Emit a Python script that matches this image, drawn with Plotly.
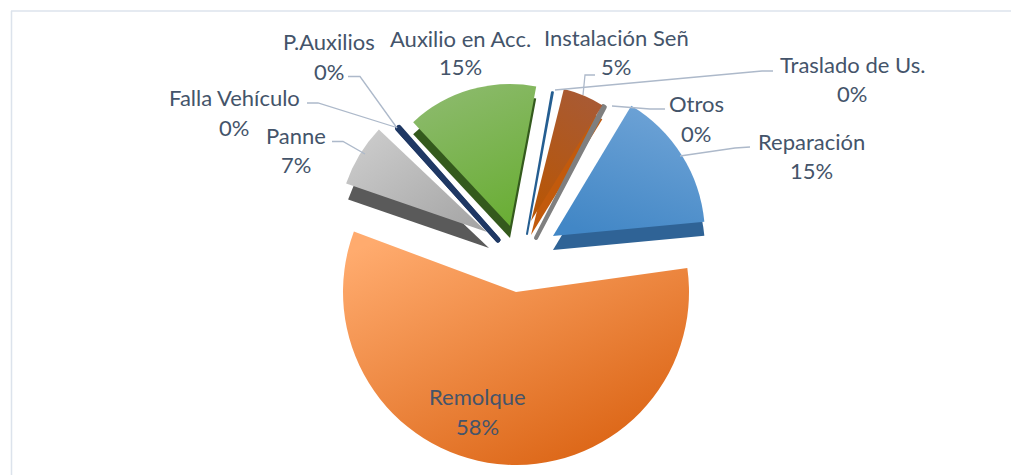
import plotly.graph_objects as go

W, H = 1011, 475

# ---- data ----
categories = ["Remolque", "Otros", "Traslado de Us.", "Reparación", "Panne", "Falla Vehículo",
              "P.Auxilios", "Auxilio en Acc.", "Instalación Señ"]
values = [57.9, 0.2, 0.1, 14.9, 6.8, 0.1, 0.2, 14.9, 4.9]
total = sum(values)

# ---- styling / layout (pixels in the 1011x475 frame) ----
# name: centre x, centre y, radius, start angle (deg clockwise from north)
geometry = {
    "Remolque": (516, 292, 173, 82),
    "Otros": (536, 238, 148, 27),
    "Traslado de Us.": (527, 234, 144, 10),
    "Reparación": (553, 236, 152, 31),
    "Panne": (487, 232, 149, 289),
    "Falla Vehículo": (498, 240, 150, 318),
    "P.Auxilios": (498, 240, 150, 318),
    "Auxilio en Acc.": (510, 226, 142, 317),
    "Instalación Señ": (531, 221, 136, 14),
}
depth = {"Reparación": (0, 14, "#2f6396"), "Panne": (2, 16, "#5a5a5a"),
         "Auxilio en Acc.": (0, 12, "#345a1d"), "Instalación Señ": (0, 14, "#c25a0c")}
flat_colors = {"Remolque": "#ED7D31", "Otros": "#7f7f7f", "Traslado de Us.": "#255e91",
               "Reparación": "#5B9BD5", "Panne": "#B5B5B5", "Falla Vehículo": "#1f3864",
               "P.Auxilios": "#1f3864", "Auxilio en Acc.": "#70AD47", "Instalación Señ": "#B05A20"}
line_w = {"Otros": 4, "Traslado de Us.": 2, "Falla Vehículo": 5, "P.Auxilios": 5}
gradients = {"Remolque": ("#ffab6e", "#d9600f", 0.15, 0, 0.85, 1),
             "Reparación": ("#6ea3d6", "#4287c6", 0.7, 0, 0.3, 1),
             "Panne": ("#cfcfcf", "#a3a3a3", 0, 0, 1, 1),
             "Auxilio en Acc.": ("#8cba6c", "#6aae35", 0.3, 0, 0.7, 1),
             "Instalación Señ": ("#a85a34", "#b85606", 0.7, 0, 0.3, 1)}
label_pos = {  # centre x, y of name line, y of percent line
    "P.Auxilios": (329, 41, 71), "Auxilio en Acc.": (460, 39, 67), "Instalación Señ": (616, 38, 67),
    "Traslado de Us.": (852, 65, 94), "Otros": (696, 103, 133), "Reparación": (811, 141, 170),
    "Remolque": (477, 396, 426), "Panne": (296, 135, 165), "Falla Vehículo": (234, 97, 127),
}
leaders = [
    [(348, 76.5), (360, 76.5), (397, 128)],
    [(307, 103), (318, 103), (395, 127)],
    [(332, 141.5), (343, 141.5), (365, 154)],
    [(595, 75), (585, 75), (583, 95)],
    [(773, 71), (762, 71), (555, 90)],
    [(665, 109), (650, 109), (612, 106)],
    [(750, 147), (735, 148), (680, 156)],
]
text_color = "#44546A"
leader_color = "#ADB9CA"


def pie(name, value, color, dx=0, dy=0, lw=0):
    cx, cy, r, start = geometry[name]
    cx, cy = cx + dx, cy + dy
    return go.Pie(
        name=name, labels=[name, ""], values=[value, total - value], sort=False,
        direction="clockwise", rotation=start, textinfo="none", hoverinfo="skip",
        showlegend=False,
        marker=dict(colors=[color, "rgba(0,0,0,0)"],
                    line=dict(color=[color, "rgba(0,0,0,0)"], width=[lw, 0])),
        domain=dict(x=[(cx - r) / W, (cx + r) / W], y=[1 - (cy + r) / H, 1 - (cy - r) / H]),
    )


fig = go.Figure()
val = dict(zip(categories, values))
for name, (dx, dy, col) in depth.items():
    fig.add_trace(pie(name, val[name], col, dx, dy))
grad_map = {}
for name in categories:
    grad_map[len(fig.data)] = name
    fig.add_trace(pie(name, val[name], flat_colors[name], lw=line_w.get(name, 0)))

shapes = [dict(type="line", xref="paper", yref="paper", x0=11 / W, x1=1, y0=1 - 11 / H, y1=1 - 11 / H,
               line=dict(color="#DCE3EC", width=1.5)),
          dict(type="line", xref="paper", yref="paper", x0=11.5 / W, x1=11.5 / W, y0=1 - 11 / H, y1=0,
               line=dict(color="#DCE3EC", width=1.5))]
for pts in leaders:
    path = "M " + " L ".join(f"{x / W:.5f},{1 - y / H:.5f}" for x, y in pts)
    shapes.append(dict(type="path", xref="paper", yref="paper", path=path,
                       line=dict(color=leader_color, width=1.3)))

annotations = []
for name in categories:
    x, y1, y2 = label_pos[name]
    for txt, y in ((name, y1), (f"{round(val[name] / total * 100)}%", y2)):
        annotations.append(dict(text=txt, x=x / W, y=1 - y / H, xref="paper", yref="paper",
                                xanchor="center", yanchor="middle", showarrow=False,
                                font=dict(family="Lato", size=22, color=text_color)))

fig.update_layout(width=W, height=H, margin=dict(l=0, r=0, t=0, b=0), paper_bgcolor="white",
                  showlegend=False, shapes=shapes, annotations=annotations)

js_defs = ""
js_map = ""
for i, name in grad_map.items():
    if name in gradients:
        a, b, x1, y1, x2, y2 = gradients[name]
        gid = f"g{i}"
        js_defs += (f"mk('{gid}','{a}','{b}',{x1},{y1},{x2},{y2});")
        js_map += f"paint({i},'{gid}');"

post = """
document.body.style.margin='0';
var gd=document.getElementById('{plot_id}');
var svg=gd.querySelector('svg.main-svg');
var NS='http://www.w3.org/2000/svg';
var defs=svg.querySelector('defs')||svg.insertBefore(document.createElementNS(NS,'defs'),svg.firstChild);
function mk(id,a,b,x1,y1,x2,y2){
 var g=document.createElementNS(NS,'linearGradient');g.setAttribute('id',id);
 g.setAttribute('x1',x1);g.setAttribute('y1',y1);g.setAttribute('x2',x2);g.setAttribute('y2',y2);
 [[0,a],[1,b]].forEach(function(s){var t=document.createElementNS(NS,'stop');
 t.setAttribute('offset',s[0]);t.setAttribute('stop-color',s[1]);g.appendChild(t);});
 defs.appendChild(g);}
function paint(i,id){
 var tr=gd.querySelectorAll('.pielayer .trace')[i];
 var p=tr.querySelector('.slice path.surface');
 p.style.fill='url(#'+id+')';}
""" + js_defs + js_map

fig.write_html("out.html", post_script=post, config=dict(displayModeBar=False))
